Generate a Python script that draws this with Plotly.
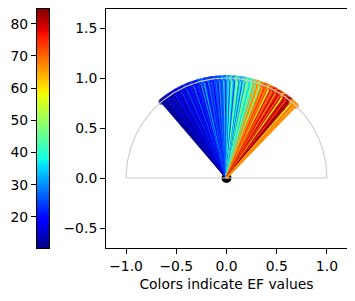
import numpy as np
import plotly.graph_objects as go

# ---- data ----
angles_deg = [130.4, 129.5, 128.7, 128.0, 127.2, 126.3, 125.5, 124.6, 123.8, 122.9,
              122.0, 121.0, 120.2, 119.3, 118.4, 117.5, 116.6, 115.7, 114.8, 113.9,
              113.0, 112.1, 111.2, 110.3, 109.4, 108.5, 107.6, 106.7, 105.8, 104.9,
              104.0, 103.1, 102.2, 101.3, 100.4, 99.5, 98.6, 97.7, 96.8, 95.9,
              95.0, 94.1, 93.2, 92.3, 91.4, 90.5, 89.7,
              88.8, 87.9, 87.0, 86.1, 85.2, 84.3, 83.4, 82.5, 81.6, 80.7,
              79.8, 78.9, 78.0, 77.1, 76.2, 75.3, 74.4, 73.5, 72.6, 71.7,
              70.8, 69.9, 69.0, 68.1, 67.2, 66.3, 65.4, 64.5, 63.6, 62.7,
              61.8, 60.9, 60.0, 59.1, 58.2, 57.3, 56.4, 55.5, 54.6, 53.7,
              52.8, 51.9, 51.0, 50.1, 49.2, 48.3, 47.2, 46.2]
ef_values = [12, 11, 14, 10.3, 13, 16, 12, 18, 11, 15,
             13, 20, 14, 17, 12, 22, 15, 19, 13, 24,
             16, 18, 21, 14, 26, 17, 20, 23, 15, 30,
             19, 33, 22, 18, 28, 21, 25, 17, 24, 27,
             20, 31, 23, 26, 35, 22, 29,
             38, 26, 45, 36, 24, 41, 48, 30, 39, 27,
             44, 32, 50, 42, 35, 47, 40, 66, 43, 68,
             64, 46, 70, 66, 75, 68, 72, 57, 78, 69,
             74, 80, 67, 76, 82, 71, 79, 58, 77, 83,
             73, 81, 84.6, 78, 56, 69, 66, 67]

x_ticks = [-1.0, -0.5, 0.0, 0.5, 1.0]
x_tick_labels = ["\u22121.0", "\u22120.5", "0.0", "0.5", "1.0"]
y_ticks = [-0.5, 0.0, 0.5, 1.0, 1.5]
y_tick_labels = ["\u22120.5", "0.0", "0.5", "1.0", "1.5"]
cbar_ticks = [20, 30, 40, 50, 60, 70, 80]

# ---- matplotlib-like jet colormap ----
_R = [(0, 0), (0.35, 0), (0.66, 1), (0.89, 1), (1, 0.5)]
_G = [(0, 0), (0.125, 0), (0.375, 1), (0.64, 1), (0.91, 0), (1, 0)]
_B = [(0, 0.5), (0.11, 1), (0.34, 1), (0.65, 0), (1, 0)]


def _ch(seg, t):
    return float(np.interp(t, [p[0] for p in seg], [p[1] for p in seg]))


def jet(t):
    t = min(max(t, 0.0), 1.0)
    return "rgb(%d,%d,%d)" % tuple(round(255 * _ch(s, t)) for s in (_R, _G, _B))


stops = [0, 0.11, 0.125, 0.34, 0.35, 0.375, 0.64, 0.65, 0.66, 0.89, 0.91, 1]
jet_scale = [[s, jet(s)] for s in stops]

vmin, vmax = min(ef_values), max(ef_values)
FONT = dict(family="DejaVu Sans", size=13.9, color="black")

fig = go.Figure()

# origin dot (drawn below the lines)
fig.add_trace(go.Scatter(x=[0], y=[0], mode="markers",
                         marker=dict(color="black", size=10), showlegend=False,
                         hoverinfo="skip"))

for a, v in zip(angles_deg, ef_values):
    th = np.deg2rad(a)
    ex, ey = np.cos(th), np.sin(th)
    col = jet((v - vmin) / (vmax - vmin))
    fig.add_trace(go.Scatter(x=[0, ex], y=[0, ey], mode="lines+markers",
                             line=dict(color=col, width=1.8),
                             marker=dict(color=col, size=[0, 6], line=dict(width=0)),
                             showlegend=False, hoverinfo="skip"))

# reference semicircle
th = np.linspace(0, np.pi, 200)
fig.add_trace(go.Scatter(x=list(np.cos(th)) + [-1, 1], y=list(np.sin(th)) + [0, 0],
                         mode="lines", line=dict(color="#cccccc", width=1.1),
                         showlegend=False, hoverinfo="skip"))

# colour bar drawn as heatmap in its own axes
levels = np.linspace(vmin, vmax, 300)
fig.add_trace(go.Heatmap(z=[[lv] for lv in levels], x=[0], y=levels,
                         colorscale=jet_scale, zmin=vmin, zmax=vmax,
                         showscale=False, xaxis="x2", yaxis="y2", hoverinfo="skip"))

# the page adds an 8 px body margin, so the figure is shifted by that amount
OFF = 8
W, H = 355 - OFF, 301 - OFF
ml, mr, mt, mb = 37 - OFF, 8, 9 - OFF, 53
pw = W - ml - mr
fig.update_layout(
    width=W, height=H,
    margin=dict(l=ml, r=mr, t=mt, b=mb, pad=0, autoexpand=False),
    paper_bgcolor="white", plot_bgcolor="white",
    font=FONT,
    xaxis=dict(domain=[(106 - 37) / pw, 1], range=[-1.2, 1.2], automargin=False,
               tickvals=x_ticks, ticktext=x_tick_labels,
               showgrid=False, zeroline=False, showline=True, mirror=True,
               linecolor="black", linewidth=1, ticks="outside", ticklen=5,
               tickcolor="black",
               title=dict(text="Colors indicate EF values", font=FONT, standoff=6)),
    yaxis=dict(domain=[0, 1], range=[-0.7, 1.69], automargin=False,
               tickvals=y_ticks, ticktext=y_tick_labels,
               showgrid=False, zeroline=False, showline=True, mirror=True,
               linecolor="black", linewidth=1, ticks="outside", ticklen=5,
               tickcolor="black"),
    xaxis2=dict(domain=[0, 12 / pw], range=[-0.5, 0.5], anchor="y2", automargin=False,
                showticklabels=False, ticks="", showgrid=False, zeroline=False,
                showline=True, mirror=True, linecolor="black", linewidth=1),
    yaxis2=dict(domain=[0, 1], range=[vmin, vmax], anchor="x2", side="left",
                automargin=False,
                tickvals=cbar_ticks, showgrid=False, zeroline=False,
                showline=True, mirror=True, linecolor="black", linewidth=1,
                ticks="outside", ticklen=5, tickcolor="black"),
)

fig.write_html("out.html")
